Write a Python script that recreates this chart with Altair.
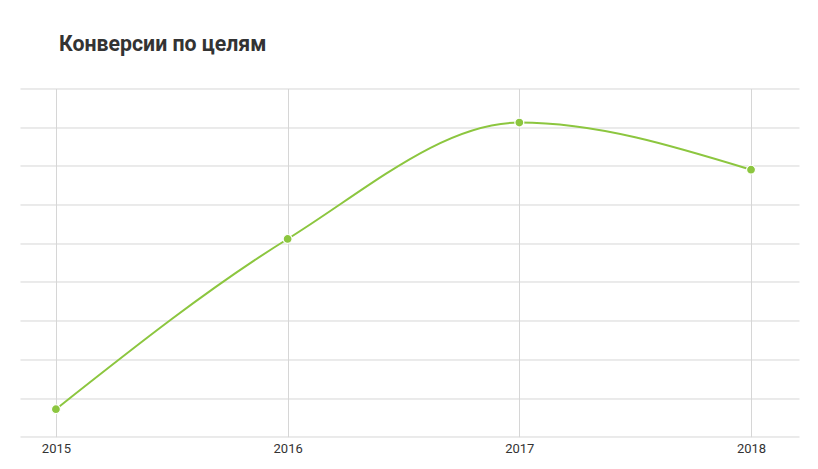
import altair as alt
import pandas as pd

years = [2015, 2016, 2017, 2018]
values = [7.1, 51.1, 81.2, 69.0]
y_ticks = [0, 10, 20, 30, 40, 50, 60, 70, 80, 90]

df = pd.DataFrame({"year": years, "value": values})

GREEN = "#8cc63f"
GRID = "#d6d6d6"

x = alt.X(
    "year:Q",
    scale=alt.Scale(domain=[2014.845, 2018.207], nice=False, zero=False),
    axis=alt.Axis(
        values=years, format="d", title=None, ticks=False, domain=False,
        grid=True, gridColor=GRID, gridWidth=1,
        labelFont="Roboto", labelFontSize=13, labelColor="#333333",
        labelPadding=6,
    ),
)
y = alt.Y(
    "value:Q",
    scale=alt.Scale(domain=[0, 90], nice=False),
    axis=alt.Axis(
        values=y_ticks, title=None, labels=False, ticks=False, domain=False,
        grid=True, gridColor=GRID, gridWidth=1,
    ),
)

base = alt.Chart(df).encode(x=x, y=y)
line = base.mark_line(color=GREEN, strokeWidth=2, interpolate="monotone")
pts = base.mark_point(filled=True, color=GREEN, size=80, opacity=1,
                      stroke="white", strokeWidth=1.2)

chart = (
    alt.layer(line, pts)
    .properties(
        width=779,
        height=348.2,
        background="white",
        title=alt.TitleParams(
            "Конверсии по целям", anchor="start", dx=39, offset=16,
            baseline="alphabetic", font="Roboto", fontSize=21.3,
            fontWeight="bold", color="#333333",
        ),
        autosize=alt.AutoSizeParams(type="none"),
        padding={"left": 12, "top": 80.5, "right": 10, "bottom": 25},
    )
    .configure_view(stroke=None, strokeWidth=0)
)

chart.save("out.html", embed_options={"renderer": "svg", "actions": False})
